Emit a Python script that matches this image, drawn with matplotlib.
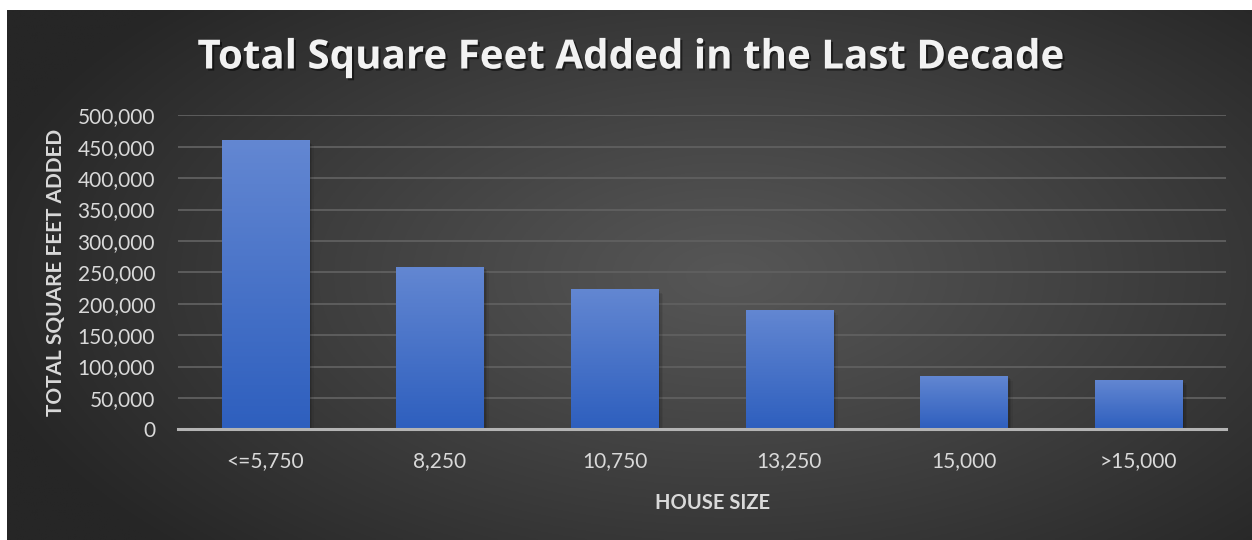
import numpy as np
import matplotlib
matplotlib.use("Agg")
import matplotlib.pyplot as plt
import matplotlib.patheffects as pe
from matplotlib.ticker import FuncFormatter, MultipleLocator

categories = ["<=5,750", "8,250", "10,750", "13,250", "15,000", ">15,000"]
values = [460000, 259000, 223000, 190000, 85000, 78500]
title = "Total Square Feet Added in the Last Decade"
xlabel = "HOUSE SIZE"
ylabel = "TOTAL SQUARE FEET ADDED"

plt.rcParams['font.family'] = ['Lato', 'DejaVu Sans']

W, H = 1252, 540
fig = plt.figure(figsize=(W / 100, H / 100), dpi=100, facecolor='white')

# background with radial gradient
bg = fig.add_axes([7 / W, 0, 1 - 7 / W, 530 / H], zorder=0)
bg.set_axis_off()
nx, ny = 600, 260
xx, yy = np.meshgrid(np.linspace(0, 1, nx), np.linspace(0, 1, ny))
r = np.sqrt(((xx - 0.58) / 0.62) ** 2 + ((yy - 0.5) / 0.75) ** 2)
v = 86 - (86 - 38) * np.clip(r, 0, 1) ** 1.1
img = np.dstack([v, v, v]) / 255.0
bg.imshow(img, aspect='auto', extent=[0, 1, 0, 1], origin='upper')
bg.set_xlim(0, 1)
bg.set_ylim(0, 1)

ax = fig.add_axes([178 / W, (H - 429.3) / H, 1048 / W, 314 / H], zorder=2)
ax.patch.set_alpha(0)

x = np.arange(len(categories))
shadow = [pe.SimplePatchShadow(offset=(o, -o), shadow_rgbFace='black', alpha=a)
          for o, a in [(3.5, 0.06), (2.5, 0.09), (1.5, 0.12)]]
bars = ax.bar(x, values, width=0.5, color='#4a76c9', zorder=3,
              path_effects=shadow + [pe.Normal()])

# vertical gradient fill inside each bar
top_c = np.array([0x63, 0x87, 0xd2]) / 255.0
bot_c = np.array([0x2e, 0x5f, 0xbe]) / 255.0
t = np.linspace(0, 1, 100)[:, None]
grad = (top_c[None, None, :] * (1 - t[:, :, None]) + bot_c[None, None, :] * t[:, :, None])
for b in bars:
    x0, y0 = b.get_x(), b.get_y()
    w, h = b.get_width(), b.get_height()
    im = ax.imshow(grad, extent=[x0, x0 + w, y0, y0 + h], aspect='auto', origin='upper', zorder=4)
    im.set_clip_path(b)

ax.set_xlim(-0.5, len(categories) - 0.5)
ax.set_ylim(0, 500000)
ax.yaxis.set_major_locator(MultipleLocator(50000))
ax.yaxis.set_major_formatter(FuncFormatter(lambda v, p: f"{int(v):,}"))
ax.set_xticks(x)
ax.set_xticklabels(categories)

ax.grid(axis='y', color='#606060', linewidth=1.3, zorder=1)
ax.set_axisbelow(True)
for s in ['top', 'right', 'left']:
    ax.spines[s].set_visible(False)
ax.spines['bottom'].set_color('#b4b4b4')
ax.spines['bottom'].set_linewidth(2.2)
ax.spines['bottom'].set_zorder(5)

ax.tick_params(axis='both', length=0, colors='#d9d9d9', labelsize=15)
ax.tick_params(axis='y', pad=16.5)
ax.tick_params(axis='x', pad=16)

fig.text(713 / W, 1 - 503 / H, xlabel, ha='center', va='center', fontsize=14.5,
         fontweight='bold', color='#d9d9d9', zorder=5)
fig.text(56 / W, 1 - 272 / H, ylabel, ha='center', va='center', rotation=90,
         fontsize=15, fontweight='bold', color='#d9d9d9', zorder=5)
fig.text(630 / W, 1 - 58 / H, title, ha='center', va='center', fontsize=29,
         fontweight='bold', color='#f2f2f2', zorder=5, family=['Open Sans', 'DejaVu Sans'],
         path_effects=[pe.SimplePatchShadow(offset=(1.5, -1.5), shadow_rgbFace='black', alpha=0.5),
                       pe.Normal()])

fig.savefig('out.png', dpi=100, facecolor='white')
